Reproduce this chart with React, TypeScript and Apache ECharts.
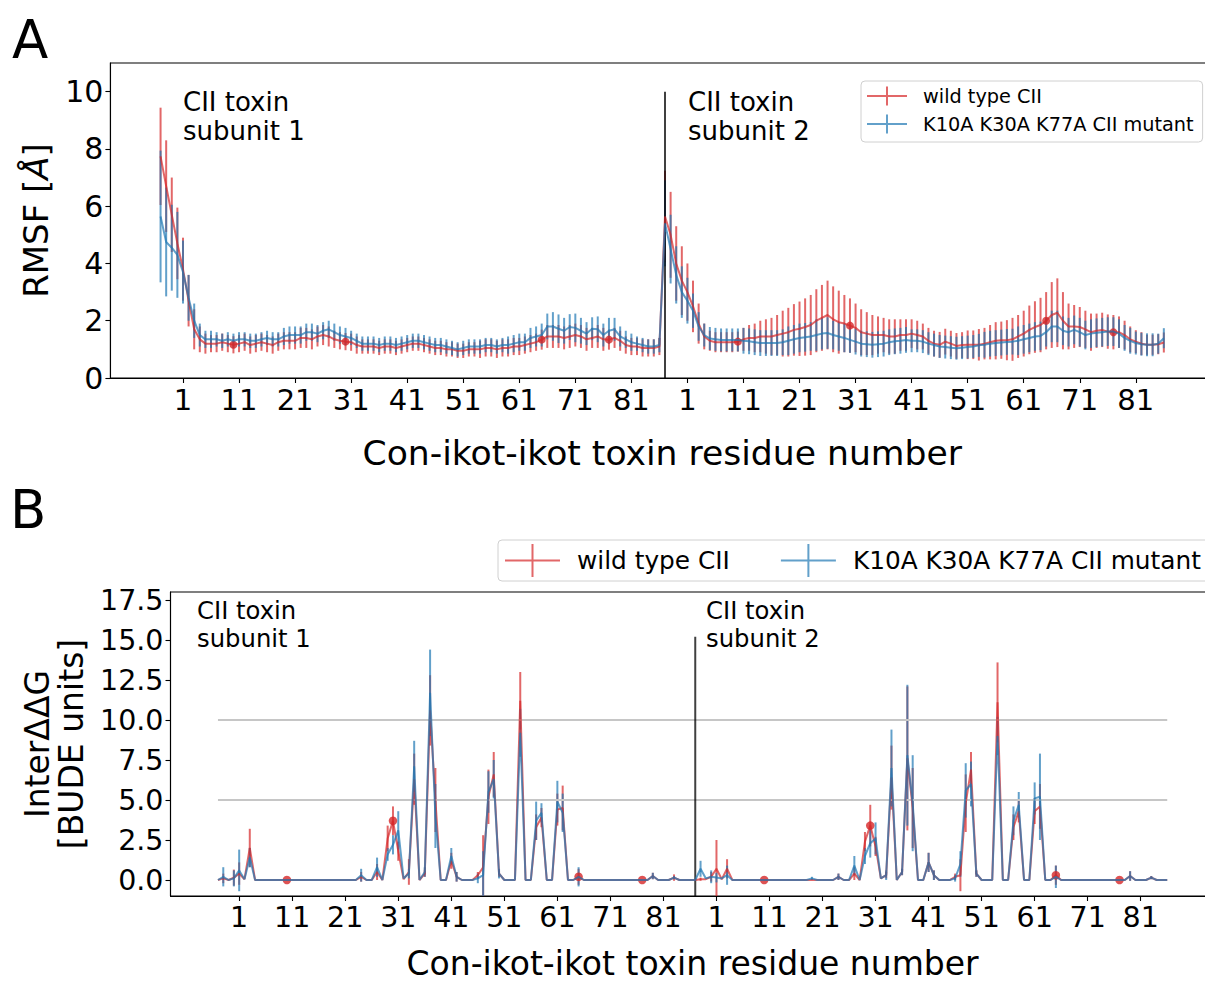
import React, { useEffect, useRef } from "react";
import * as echarts from "echarts";

const FONT = "DejaVu Sans";
const RED = "rgba(214,39,40,0.7)";
const BLUE = "rgba(31,119,180,0.7)";
const DOT = "#d62728";

const firstResidue = -3;
const subunitLength = 90;
const tickResidues = [1, 11, 21, 31, 41, 51, 61, 71, 81];
const highlightResidues = [10, 30, 65, 77];
const seriesNames = ["wild type CII", "K10A K30A K77A CII mutant"];
const xLabel = "Con-ikot-ikot toxin residue number";

// ---------- Panel A: RMSF (Å) ----------
const rmsfTicks = [0, 2, 4, 6, 8, 10];
const rmsfWT1 = [
  7.74, 6.7, 5.7, 4.7, 3.8, 2.7, 1.7, 1.35, 1.2, 1.2,
  1.2, 1.25, 1.2, 1.16, 1.2, 1.25, 1.15, 1.2, 1.25, 1.2,
  1.15, 1.25, 1.3, 1.3, 1.3, 1.4, 1.4, 1.35, 1.45, 1.5,
  1.45, 1.35, 1.3, 1.27, 1.25, 1.15, 1.1, 1.1, 1.1, 1.05,
  1.1, 1.1, 1.05, 1.1, 1.15, 1.2, 1.2, 1.15, 1.1, 1.05,
  1.05, 1.0, 1.0, 0.95, 0.95, 1.0, 1.0, 1.0, 1.05, 1.05,
  1.0, 1.05, 1.05, 1.1, 1.1, 1.15, 1.2, 1.25, 1.34, 1.45,
  1.45, 1.45, 1.4, 1.45, 1.5, 1.45, 1.35, 1.4, 1.45, 1.35,
  1.34, 1.4, 1.3, 1.15, 1.1, 1.1, 1.05, 1.05, 1.05, 1.1,
];
const rmsfMut1 = [
  5.64, 4.75, 4.55, 4.3, 3.7, 2.8, 2.0, 1.5, 1.35, 1.35,
  1.35, 1.3, 1.35, 1.3, 1.35, 1.35, 1.3, 1.3, 1.35, 1.4,
  1.35, 1.35, 1.45, 1.5, 1.5, 1.5, 1.6, 1.6, 1.55, 1.65,
  1.7, 1.6, 1.5, 1.45, 1.4, 1.3, 1.2, 1.2, 1.2, 1.15,
  1.2, 1.2, 1.15, 1.2, 1.25, 1.3, 1.3, 1.25, 1.2, 1.15,
  1.15, 1.1, 1.05, 1.0, 1.05, 1.1, 1.1, 1.1, 1.15, 1.15,
  1.1, 1.15, 1.15, 1.2, 1.25, 1.25, 1.4, 1.45, 1.5, 1.8,
  1.8, 1.72, 1.65, 1.78, 1.75, 1.65, 1.55, 1.72, 1.7, 1.5,
  1.65, 1.7, 1.45, 1.35, 1.25, 1.2, 1.15, 1.1, 1.1, 1.15,
];
const rmsfWTErr1 = [
  1.7, 1.6, 1.3, 1.25, 1.1, 0.9, 0.7, 0.45, 0.35, 0.3,
  0.3, 0.3, 0.3, 0.3, 0.3, 0.3, 0.3, 0.3, 0.3, 0.3,
  0.3, 0.3, 0.3, 0.3, 0.3, 0.35, 0.35, 0.35, 0.35, 0.35,
  0.35, 0.3, 0.3, 0.3, 0.3, 0.3, 0.25, 0.25, 0.25, 0.25,
  0.25, 0.25, 0.25, 0.25, 0.25, 0.25, 0.25, 0.25, 0.25, 0.25,
  0.25, 0.25, 0.25, 0.25, 0.25, 0.25, 0.25, 0.3, 0.3, 0.3,
  0.3, 0.3, 0.3, 0.3, 0.3, 0.3, 0.3, 0.3, 0.35, 0.4,
  0.4, 0.4, 0.4, 0.4, 0.4, 0.4, 0.4, 0.35, 0.4, 0.4,
  0.35, 0.35, 0.35, 0.3, 0.3, 0.3, 0.3, 0.3, 0.3, 0.3,
];
const rmsfMutErr1 = [
  2.3, 1.9, 1.5, 1.5, 1.1, 0.8, 0.6, 0.4, 0.3, 0.3,
  0.25, 0.25, 0.25, 0.25, 0.25, 0.25, 0.25, 0.25, 0.25, 0.25,
  0.25, 0.25, 0.3, 0.3, 0.3, 0.3, 0.3, 0.3, 0.3, 0.3,
  0.3, 0.3, 0.3, 0.3, 0.25, 0.25, 0.25, 0.25, 0.25, 0.25,
  0.25, 0.25, 0.25, 0.25, 0.25, 0.25, 0.25, 0.25, 0.25, 0.25,
  0.25, 0.25, 0.25, 0.25, 0.25, 0.25, 0.25, 0.25, 0.25, 0.25,
  0.25, 0.25, 0.3, 0.3, 0.3, 0.3, 0.35, 0.35, 0.4, 0.45,
  0.5, 0.5, 0.45, 0.45, 0.5, 0.45, 0.4, 0.4, 0.45, 0.4,
  0.45, 0.4, 0.35, 0.3, 0.3, 0.25, 0.25, 0.25, 0.25, 0.25,
];
const rmsfWT2 = [
  5.64, 5.0, 4.0, 3.4, 3.0, 2.5, 1.9, 1.45, 1.3, 1.25,
  1.25, 1.25, 1.25, 1.27, 1.35, 1.4, 1.4, 1.45, 1.45, 1.45,
  1.5, 1.55, 1.6, 1.68, 1.72, 1.78, 1.85, 2.0, 2.1, 2.2,
  2.05, 1.95, 1.9, 1.83, 1.75, 1.6, 1.55, 1.5, 1.5, 1.5,
  1.45, 1.45, 1.5, 1.5, 1.55, 1.5, 1.45, 1.3, 1.2, 1.16,
  1.27, 1.2, 1.12, 1.15, 1.16, 1.16, 1.16, 1.2, 1.25, 1.3,
  1.32, 1.32, 1.35, 1.45, 1.55, 1.68, 1.78, 1.85, 2.0, 2.2,
  2.28, 2.0, 1.8, 1.8, 1.78, 1.7, 1.6, 1.65, 1.68, 1.62,
  1.6, 1.6, 1.5, 1.35, 1.27, 1.2, 1.16, 1.16, 1.18, 1.24,
];
const rmsfMut2 = [
  5.4, 4.5, 3.6, 3.0, 2.7, 2.35, 1.8, 1.5, 1.38, 1.35,
  1.33, 1.33, 1.33, 1.33, 1.3, 1.28, 1.25, 1.22, 1.22, 1.22,
  1.22, 1.25, 1.3, 1.35, 1.4, 1.42, 1.45, 1.5, 1.55, 1.57,
  1.5, 1.45, 1.4, 1.33, 1.27, 1.2, 1.18, 1.16, 1.18, 1.2,
  1.25, 1.28, 1.3, 1.33, 1.3, 1.3, 1.27, 1.2, 1.15, 1.1,
  1.08, 1.06, 1.04, 1.06, 1.08, 1.1, 1.14, 1.16, 1.2, 1.22,
  1.24, 1.26, 1.27, 1.3, 1.35, 1.4, 1.45, 1.47, 1.6, 1.8,
  1.8, 1.65, 1.6, 1.68, 1.6, 1.5, 1.55, 1.58, 1.6, 1.62,
  1.62, 1.55, 1.4, 1.3, 1.22, 1.18, 1.16, 1.16, 1.2, 1.39,
];
const rmsfWTErr2 = [
  1.6, 1.5, 1.3, 1.2, 1.0, 0.9, 0.7, 0.45, 0.35, 0.35,
  0.35, 0.35, 0.35, 0.35, 0.4, 0.45, 0.5, 0.55, 0.6, 0.65,
  0.7, 0.8, 0.85, 0.9, 0.95, 1.0, 1.05, 1.1, 1.15, 1.2,
  1.15, 1.1, 1.0, 0.95, 0.85, 0.8, 0.75, 0.7, 0.65, 0.6,
  0.6, 0.6, 0.55, 0.55, 0.5, 0.5, 0.45, 0.45, 0.45, 0.45,
  0.45, 0.45, 0.45, 0.45, 0.5, 0.5, 0.55, 0.55, 0.6, 0.65,
  0.65, 0.7, 0.75, 0.75, 0.8, 0.85, 0.9, 0.95, 1.0, 1.15,
  1.2, 1.0, 0.8, 0.75, 0.7, 0.65, 0.65, 0.6, 0.6, 0.6,
  0.6, 0.55, 0.5, 0.45, 0.4, 0.4, 0.35, 0.35, 0.35, 0.35,
];
const rmsfMutErr2 = [
  1.5, 1.2, 1.0, 0.9, 0.8, 0.6, 0.5, 0.4, 0.4, 0.4,
  0.4, 0.4, 0.4, 0.4, 0.45, 0.45, 0.45, 0.45, 0.45, 0.45,
  0.45, 0.45, 0.5, 0.5, 0.5, 0.5, 0.5, 0.55, 0.55, 0.55,
  0.5, 0.5, 0.5, 0.45, 0.45, 0.45, 0.45, 0.45, 0.45, 0.45,
  0.45, 0.45, 0.45, 0.45, 0.4, 0.4, 0.4, 0.4, 0.4, 0.4,
  0.4, 0.4, 0.4, 0.4, 0.4, 0.4, 0.4, 0.45, 0.45, 0.45,
  0.45, 0.45, 0.45, 0.5, 0.5, 0.5, 0.5, 0.5, 0.5, 0.55,
  0.55, 0.5, 0.5, 0.5, 0.5, 0.5, 0.5, 0.5, 0.5, 0.5,
  0.5, 0.5, 0.45, 0.45, 0.4, 0.4, 0.4, 0.4, 0.35, 0.35,
];

// ---------- Panel B: Inter ΔΔG (BUDE units) ----------
const ddgTicks = [0, 2.5, 5, 7.5, 10, 12.5, 15, 17.5];
const ddgRefLevels = [5, 10];
const ddgWT1 = [
  0, 0.1, 0, 0.15, 0.4, 0.05, 2.0, 0, 0, 0,
  0, 0, 0, 0, 0, 0, 0, 0, 0, 0,
  0, 0, 0, 0, 0, 0, 0, 0.2, 0, 0,
  0.5, 0, 2.6, 3.7, 1.8, 0.05, 0.5, 6.3, 0, 0.4,
  10.6, 5.0, 0, 0, 1.2, 0.2, 0, 0, 0, 0.3,
  0.8, 5.2, 6.6, 0.4, 0, 0, 0, 11.2, 0, 0,
  3.3, 3.9, 0, 0, 4.4, 4.5, 0, 0, 0.2, 0,
  0, 0, 0, 0, 0, 0, 0, 0, 0, 0,
  0, 0, 0.25, 0, 0, 0, 0.15, 0, 0, 0,
];
const ddgMut1 = [
  0, 0.2, 0, 0.1, 0.6, 0.05, 1.4, 0, 0, 0,
  0, 0, 0, 0, 0, 0, 0, 0, 0, 0,
  0, 0, 0, 0, 0, 0, 0, 0.3, 0, 0,
  0.8, 0, 1.6, 2.2, 3.1, 0.1, 0.4, 7.1, 0, 0.5,
  11.7, 4.0, 0, 0, 1.5, 0.2, 0, 0, 0, 0.1,
  0.3, 5.5, 6.3, 0.4, 0, 0, 0, 9.2, 0, 0,
  3.7, 4.2, 0, 0, 4.9, 4.2, 0, 0, 0.2, 0,
  0, 0, 0, 0, 0, 0, 0, 0, 0, 0,
  0, 0, 0.25, 0, 0, 0, 0.15, 0, 0, 0,
];
const ddgWTErr1 = [
  0, 0.3, 0, 0.5, 0.7, 0, 1.2, 0, 0, 0,
  0, 0, 0, 0, 0, 0, 0, 0, 0, 0,
  0, 0, 0, 0, 0, 0, 0, 0.3, 0, 0,
  0.5, 0, 0.8, 0.9, 0.6, 0, 0.8, 1.6, 0, 0.2,
  2.2, 2.0, 0, 0, 0.5, 0.3, 0, 0, 0, 0.2,
  2.0, 1.7, 1.4, 0.2, 0, 0, 0, 1.8, 0, 0,
  0.8, 0.6, 0, 0, 1.0, 1.4, 0, 0, 0.5, 0,
  0, 0, 0, 0, 0, 0, 0, 0, 0, 0,
  0, 0, 0.2, 0, 0, 0, 0.2, 0, 0, 0,
];
const ddgMutErr1 = [
  0, 0.6, 0, 0.5, 1.3, 0, 0.6, 0, 0, 0,
  0, 0, 0, 0, 0, 0, 0, 0, 0, 0,
  0, 0, 0, 0, 0, 0, 0, 0.4, 0, 0,
  0.6, 0, 0.4, 0.6, 1.2, 0, 0.3, 1.6, 0, 0.3,
  2.7, 2.0, 0, 0, 0.5, 0.3, 0, 0, 0, 0.3,
  1.5, 1.3, 1.2, 0.3, 0, 0, 0, 1.5, 0, 0,
  1.2, 0.6, 0, 0, 1.3, 1.2, 0, 0, 0.6, 0,
  0, 0, 0, 0, 0, 0, 0, 0, 0, 0,
  0, 0, 0.2, 0, 0, 0, 0.1, 0, 0, 0,
];
const ddgWT2 = [
  0, 0.05, 0.05, 0.2, 0.7, 0.05, 0.7, 0, 0, 0,
  0, 0, 0, 0, 0, 0, 0, 0, 0, 0,
  0, 0, 0, 0, 0, 0, 0, 0.2, 0, 0,
  0.4, 0, 2.4, 3.4, 2.1, 0.1, 0.3, 6.4, 0, 0.5,
  7.6, 4.5, 0, 0, 1.1, 0.3, 0, 0, 0, 0.2,
  0.3, 4.8, 6.9, 0.4, 0, 0, 0, 11.1, 0, 0,
  3.3, 4.3, 0, 0, 4.3, 4.6, 0, 0, 0.3, 0,
  0, 0, 0, 0, 0, 0, 0, 0, 0, 0,
  0, 0, 0.25, 0, 0, 0, 0.15, 0, 0, 0,
];
const ddgMut2 = [
  0, 0.7, 0.1, 0.2, 0.15, 0.1, 0.3, 0, 0, 0,
  0, 0, 0, 0, 0, 0, 0, 0, 0, 0,
  0, 0, 0.1, 0, 0, 0, 0, 0.2, 0, 0,
  0.9, 0, 1.5, 2.3, 2.6, 0.1, 0.3, 7.0, 0, 0.5,
  7.8, 4.8, 0, 0, 1.1, 0.3, 0, 0, 0, 0.1,
  1.0, 5.6, 6.0, 0.4, 0, 0, 0, 9.0, 0, 0,
  3.7, 4.7, 0, 0, 5.1, 5.2, 0, 0, 0.2, 0,
  0, 0, 0, 0, 0, 0, 0, 0, 0, 0,
  0, 0, 0.25, 0, 0, 0, 0.15, 0, 0, 0,
];
const ddgWTErr2 = [
  0, 0.1, 0, 0.3, 1.8, 0, 0.6, 0, 0, 0,
  0, 0, 0, 0, 0, 0, 0, 0, 0, 0,
  0, 0, 0, 0, 0, 0, 0, 0.2, 0, 0,
  0.4, 0, 0.6, 1.3, 0.6, 0, 0.2, 2.0, 0, 0.2,
  4.5, 2.5, 0, 0, 0.6, 0.3, 0, 0, 0, 0.2,
  1.0, 1.8, 1.1, 0.2, 0, 0, 0, 2.5, 0, 0,
  0.8, 0.7, 0, 0, 0.8, 1.4, 0, 0, 0.6, 0,
  0, 0, 0, 0, 0, 0, 0, 0, 0, 0,
  0, 0, 0.3, 0, 0, 0, 0.1, 0, 0, 0,
];
const ddgMutErr2 = [
  0, 0.5, 0, 0.4, 0.3, 0, 0.6, 0, 0, 0,
  0, 0, 0, 0, 0, 0, 0, 0, 0, 0,
  0, 0, 0.1, 0, 0, 0, 0, 0.2, 0, 0,
  0.6, 0, 0.5, 0.9, 1.0, 0, 0.3, 2.4, 0, 0.2,
  4.4, 3.0, 0, 0, 0.6, 0.3, 0, 0, 0, 0.2,
  0.8, 1.7, 1.4, 0.2, 0, 0, 0, 1.2, 0, 0,
  0.9, 0.8, 0, 0, 1.0, 2.7, 0, 0, 0.7, 0,
  0, 0, 0, 0, 0, 0, 0, 0, 0, 0,
  0, 0, 0.3, 0, 0, 0, 0.1, 0, 0, 0,
];

// subunit boundary line extents (y range in data units)
const boundaryA = [0, 10];
const boundaryB = [-1, 15.2];

// ---------- helpers ----------
const posOf = (subunit: number, residue: number) =>
  subunit * subunitLength + residue - firstResidue;
const residueOf = (pos: number) => (pos % subunitLength) + firstResidue;
const tickPositions = [0, 1].flatMap((s) => tickResidues.map((r) => posOf(s, r)));

const lineData = (a: number[], b: number[]) => [...a, ...b].map((v, i) => [i, v]);
const errData = (m1: number[], m2: number[], e1: number[], e2: number[]) => {
  const m = [...m1, ...m2];
  const e = [...e1, ...e2];
  return m.map((v, i) => [i, v - e[i], v + e[i]]);
};
const dotData = (a: number[], b: number[]) =>
  [a, b].flatMap((arr, s) =>
    highlightResidues.map((r) => [posOf(s, r), arr[r - firstResidue]])
  );

const errRender = (color: string) => (params: any, api: any) => {
  const x = api.value(0);
  const lo = api.value(1);
  const hi = api.value(2);
  if (!(hi - lo > 0)) return null;
  const p1 = api.coord([x, lo]);
  const p2 = api.coord([x, hi]);
  return {
    type: "line",
    shape: { x1: p1[0], y1: p1[1], x2: p2[0], y2: p2[1] },
    style: { stroke: color, lineWidth: 2 },
  };
};

function panelSeries(
  gi: number,
  wt1: number[], wt2: number[], mu1: number[], mu2: number[],
  we1: number[], we2: number[], me1: number[], me2: number[],
  boundary: number[], refLevels: number[], dotSize: number
) {
  const last = subunitLength * 2 - 1;
  const s: any[] = [];
  refLevels.forEach((lv) =>
    s.push({
      type: "line", xAxisIndex: gi, yAxisIndex: gi, name: "ref" + gi + lv,
      data: [[0, lv], [last, lv]], symbol: "none", silent: true,
      lineStyle: { color: "#c6c6c6", width: 2 },
    })
  );
  s.push({
    type: "line", xAxisIndex: gi, yAxisIndex: gi, name: "boundary" + gi,
    data: [[subunitLength, boundary[0]], [subunitLength, boundary[1]]],
    symbol: "none", silent: true,
    lineStyle: { color: "rgba(0,0,0,0.75)", width: 2 },
  });
  s.push({
    type: "custom", xAxisIndex: gi, yAxisIndex: gi, name: "wtErr" + gi,
    renderItem: errRender(RED), data: errData(wt1, wt2, we1, we2),
    encode: { x: 0, y: [1, 2] }, clip: true, silent: true,
  });
  s.push({
    type: "line", xAxisIndex: gi, yAxisIndex: gi, name: seriesNames[0],
    data: lineData(wt1, wt2), symbol: "none", color: RED,
    lineStyle: { color: RED, width: 2 },
  });
  s.push({
    type: "scatter", xAxisIndex: gi, yAxisIndex: gi, name: "dots" + gi,
    data: dotData(wt1, wt2), symbol: "circle", symbolSize: dotSize,
    itemStyle: { color: DOT }, silent: true,
  });
  s.push({
    type: "custom", xAxisIndex: gi, yAxisIndex: gi, name: "muErr" + gi,
    renderItem: errRender(BLUE), data: errData(mu1, mu2, me1, me2),
    encode: { x: 0, y: [1, 2] }, clip: true, silent: true,
  });
  s.push({
    type: "line", xAxisIndex: gi, yAxisIndex: gi, name: seriesNames[1],
    data: lineData(mu1, mu2), symbol: "none", color: BLUE,
    lineStyle: { color: BLUE, width: 2 },
  });
  return s;
}

const X_MIN = -8.95;
const X_MAX = 187.95;

function xAxisFor(gi: number, fontSize: number, nameSize: number, gap: number) {
  return {
    type: "value", gridIndex: gi, min: X_MIN, max: X_MAX,
    splitLine: { show: false },
    axisLine: { onZero: false, lineStyle: { color: "#000", width: 1.1 } },
    axisTick: { customValues: tickPositions, length: 5, lineStyle: { color: "#000", width: 1.1 } },
    axisLabel: {
      customValues: tickPositions,
      formatter: (v: number) => String(residueOf(v)),
      fontSize, fontFamily: FONT, color: "#000", margin: 7,
    },
    name: xLabel, nameLocation: "middle", nameGap: gap,
    nameTextStyle: { fontSize: nameSize, lineHeight: nameSize - 2, fontFamily: FONT, color: "#000" },
  };
}

function buildOption() {
  const legendIcon = (w: number, h: number) =>
    `path://M0,${h / 2 - 1}h${w}v2H0zM${w / 2 - 1},0h2v${h}h-2z`;
  return {
    animation: false,
    backgroundColor: "#fff",
    textStyle: { fontFamily: FONT },
    grid: [
      { left: 110.4, top: 63, width: 1103.6, height: 315, show: true, borderColor: "#000", borderWidth: 1.1, outerBoundsMode: "none", containLabel: false },
      { left: 170.5, top: 592, width: 1044.2, height: 304, show: true, borderColor: "#000", borderWidth: 1.1, outerBoundsMode: "none", containLabel: false },
    ],
    xAxis: [xAxisFor(0, 29, 34.6, 59), xAxisFor(1, 28.5, 33, 52)],
    yAxis: [
      {
        type: "value", gridIndex: 0, min: 0, max: 11,
        splitLine: { show: false },
        axisLine: { show: true, onZero: false, lineStyle: { color: "#000", width: 1.1 } },
        axisTick: { show: true, customValues: rmsfTicks, length: 5, lineStyle: { color: "#000", width: 1.1 } },
        axisLabel: { customValues: rmsfTicks, fontSize: 30, fontFamily: FONT, color: "#000", margin: 7 },
        name: "RMSF [{i|Å}]", nameLocation: "middle", nameGap: 57, nameRotate: 90,
        nameTextStyle: {
          fontSize: 34, fontFamily: FONT, color: "#000",
          rich: { i: { fontSize: 34, fontFamily: FONT, fontStyle: "italic", color: "#000" } },
        },
      },
      {
        type: "value", gridIndex: 1, min: -1, max: 18,
        splitLine: { show: false },
        axisLine: { show: true, onZero: false, lineStyle: { color: "#000", width: 1.1 } },
        axisTick: { show: true, customValues: ddgTicks, length: 5, lineStyle: { color: "#000", width: 1.1 } },
        axisLabel: {
          customValues: ddgTicks, formatter: (v: number) => v.toFixed(1),
          fontSize: 28.5, fontFamily: FONT, color: "#000", margin: 7,
        },
        name: "InterΔΔG\n[BUDE units]", nameLocation: "middle", nameGap: 82, nameRotate: 90,
        nameTextStyle: { fontSize: 33, fontFamily: FONT, color: "#000", lineHeight: 34 },
      },
    ],
    legend: [
      {
        data: seriesNames, orient: "vertical", left: 861, top: 81,
        icon: legendIcon(40, 19), itemWidth: 40, itemHeight: 19, itemGap: 6,
        symbolKeepAspect: false, selectedMode: false,
        backgroundColor: "#fff", borderColor: "#d0d0d0", borderWidth: 1, borderRadius: 4,
        padding: [4, 9, 7, 6],
        itemStyle: { borderWidth: 0 },
        textStyle: { fontSize: 19.3, fontFamily: FONT, color: "#000", lineHeight: 22, padding: [0, 0, 0, 11] },
      },
      {
        data: seriesNames, orient: "horizontal", left: 498, top: 540, width: 800,
        icon: legendIcon(55, 33), itemWidth: 55, itemHeight: 33, itemGap: 51,
        symbolKeepAspect: false, selectedMode: false,
        backgroundColor: "#fff", borderColor: "#d0d0d0", borderWidth: 1, borderRadius: 4,
        padding: [4, 9, 4, 7],
        itemStyle: { borderWidth: 0 },
        textStyle: { fontSize: 24.8, fontFamily: FONT, color: "#000", padding: [0, 0, 0, 12] },
      },
    ],
    graphic: [
      { type: "text", left: 12, top: 13, style: { text: "A", fontSize: 53, fontFamily: FONT, fill: "#000" } },
      { type: "text", left: 10, top: 483, style: { text: "B", fontSize: 53, fontFamily: FONT, fill: "#000" } },
      { type: "text", left: 183, top: 88, style: { text: "CII toxin\nsubunit 1", fontSize: 26, lineHeight: 28.5, fontFamily: FONT, fill: "#000" } },
      { type: "text", left: 688, top: 88, style: { text: "CII toxin\nsubunit 2", fontSize: 26, lineHeight: 28.5, fontFamily: FONT, fill: "#000" } },
      { type: "text", left: 197, top: 596, style: { text: "CII toxin\nsubunit 1", fontSize: 24.3, lineHeight: 28.3, fontFamily: FONT, fill: "#000" } },
      { type: "text", left: 706, top: 596, style: { text: "CII toxin\nsubunit 2", fontSize: 24.3, lineHeight: 28.3, fontFamily: FONT, fill: "#000" } },
    ],
    series: [
      ...panelSeries(0, rmsfWT1, rmsfWT2, rmsfMut1, rmsfMut2, rmsfWTErr1, rmsfWTErr2, rmsfMutErr1, rmsfMutErr2, boundaryA, [], 8),
      ...panelSeries(1, ddgWT1, ddgWT2, ddgMut1, ddgMut2, ddgWTErr1, ddgWTErr2, ddgMutErr1, ddgMutErr2, boundaryB, ddgRefLevels, 8.5),
    ],
  };
}

export default function App() {
  const ref = useRef<HTMLDivElement>(null);
  useEffect(() => {
    if (!ref.current) return;
    const chart = echarts.init(ref.current, null, { renderer: "svg" });
    chart.setOption(buildOption() as any);
    return () => chart.dispose();
  }, []);
  return (
    <div
      ref={ref}
      style={{ position: "absolute", left: 0, top: 0, width: 1205, height: 984, overflow: "hidden" }}
    />
  );
}
